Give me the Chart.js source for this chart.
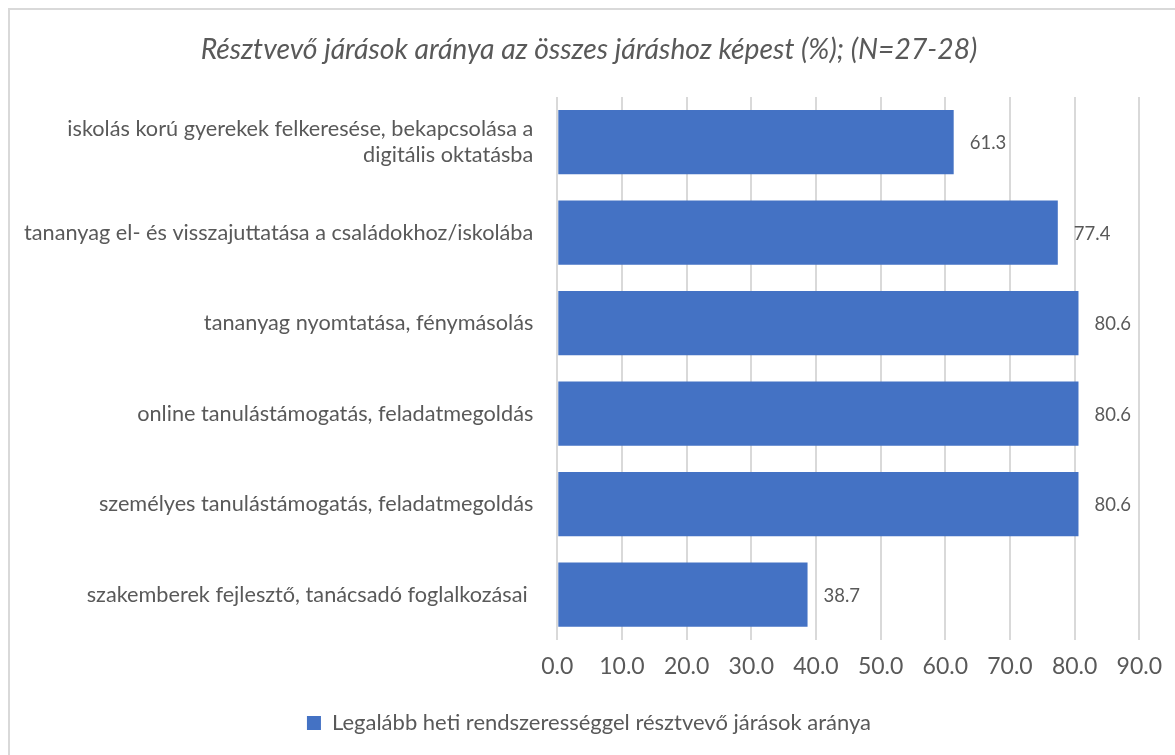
<!DOCTYPE html>
<html lang="hu">
<head>
  <meta charset="UTF-8">
  <title>Résztvevő járások aránya</title>
  <script src="https://cdn.jsdelivr.net/npm/chart.js"></script>
  <style>
    html, body {
      margin: 0;
      padding: 0;
      background: #fff;
      overflow: hidden;
    }
    .frame {
      position: absolute;
      left: 8px;
      top: 8px;
      width: 1180px;
      height: 760px;
      border-left: 2px solid #d9d9d9;
      border-top: 2px solid #d9d9d9;
    }
    .chart-box {
      position: absolute;
      left: 0;
      top: 0;
      width: 1175px;
      height: 755px;
    }
  </style>
</head>
<body>
  <div class="frame"></div>
  <div class="chart-box">
    <canvas id="activityChart"></canvas>
  </div>

  <script>
    const categories = [
      ['iskolás korú gyerekek felkeresése, bekapcsolása a', 'digitális oktatásba'],
      'tananyag el- és visszajuttatása a családokhoz/iskolába',
      'tananyag nyomtatása, fénymásolás',
      'online tanulástámogatás, feladatmegoldás',
      'személyes tanulástámogatás, feladatmegoldás',
      'szakemberek fejlesztő, tanácsadó foglalkozásai '
    ];
    const weeklyShare = [61.3, 77.4, 80.6, 80.6, 80.6, 38.7];
    const seriesName = 'Legalább heti rendszerességgel résztvevő járások aránya';
    const chartTitle = 'Résztvevő járások aránya az összes járáshoz képest (%); (N=27-28)';

    const textGrey = '#595959';
    const fontFamily = 'Lato, "Open Sans", sans-serif';

    // value labels to the right of each bar
    const valueLabels = {
      id: 'valueLabels',
      afterDatasetsDraw(chart) {
        const ctx = chart.ctx;
        const meta = chart.getDatasetMeta(0);
        ctx.save();
        ctx.font = '18.5px ' + fontFamily;
        ctx.fillStyle = textGrey;
        ctx.textAlign = 'left';
        ctx.textBaseline = 'middle';
        meta.data.forEach((bar, i) => {
          ctx.fillText(weeklyShare[i].toFixed(1), bar.x + 16, bar.y + 1);
        });
        ctx.restore();
      }
    };

    new Chart(document.getElementById('activityChart').getContext('2d'), {
      type: 'bar',
      data: {
        labels: categories,
        datasets: [{
          label: seriesName,
          data: weeklyShare,
          backgroundColor: '#4472c4',
          borderWidth: 0,
          barPercentage: 0.71,
          categoryPercentage: 1.0
        }]
      },
      options: {
        indexAxis: 'y',
        responsive: true,
        maintainAspectRatio: false,
        animation: false,
        layout: { padding: { left: 0, right: -3, top: 33, bottom: 11 } },
        plugins: {
          title: {
            display: true,
            text: chartTitle,
            color: textGrey,
            font: { family: fontFamily, size: 28.3, style: 'italic', weight: 'normal' },
            padding: { top: 0, bottom: 30 }
          },
          legend: {
            position: 'bottom',
            labels: {
              color: textGrey,
              font: { family: fontFamily, size: 22 },
              boxWidth: 14,
              boxHeight: 14,
              padding: 7.5
            }
          },
          tooltip: { enabled: false }
        },
        scales: {
          x: {
            min: 0,
            max: 90,
            afterFit(scale) { scale.height += 11; },
            ticks: {
              stepSize: 10,
              color: textGrey,
              font: { family: fontFamily, size: 23 },
              padding: 13,
              callback: v => v.toFixed(1)
            },
            grid: { color: '#d9d9d9', lineWidth: 2, drawTicks: false },
            border: { display: false }
          },
          y: {
            ticks: {
              color: textGrey,
              font: { family: fontFamily, size: 21.7 },
              padding: 24
            },
            grid: { display: false, drawTicks: false },
            border: { display: false }
          }
        }
      },
      plugins: [valueLabels]
    });
  </script>
</body>
</html>
